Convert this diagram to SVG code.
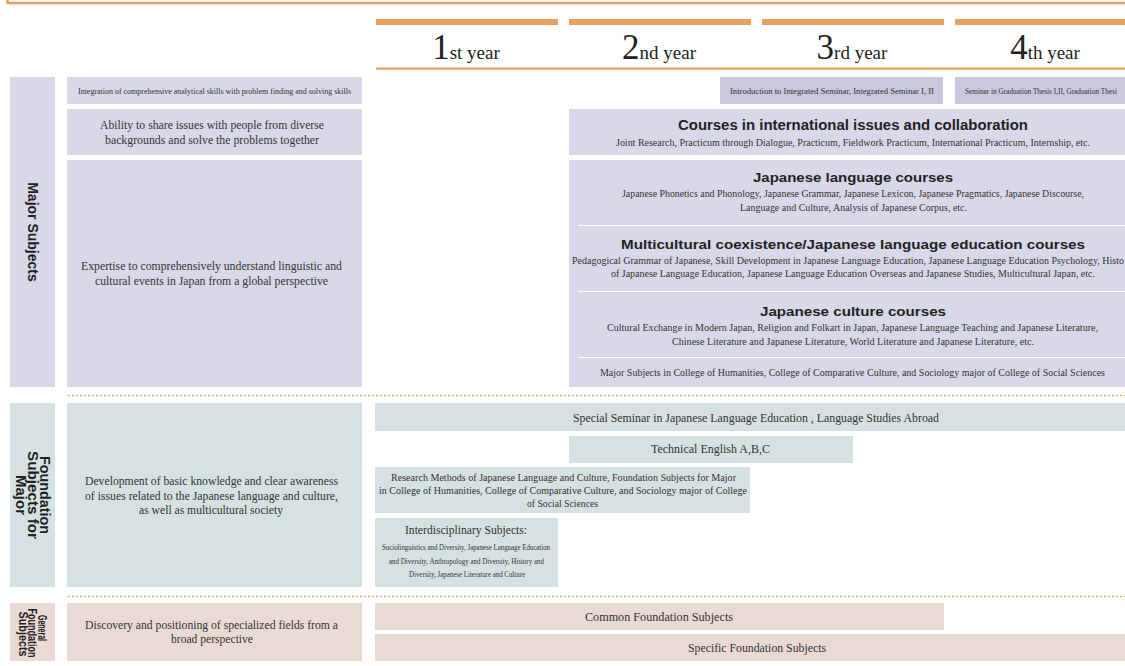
<svg xmlns="http://www.w3.org/2000/svg" width="1125" height="666" viewBox="0 0 1125 666">
<style>
.lav{fill:#d9d8e8}
.lavd{fill:#c9c8de}
.teal{fill:#d5e2e1}
.pink{fill:#e9dbd3}
.org{fill:#e8a060}
.sf{font-family:"Liberation Serif","Times New Roman",serif;fill:#333;}
.ss{font-family:"Liberation Sans",Arial,sans-serif;font-weight:bold;fill:#222;}
.c{text-anchor:middle}
.div{stroke:#ffffff;stroke-width:1.2}
.dot{stroke:#e8a060;stroke-width:1.6;stroke-dasharray:1.6 2.4;fill:none}
.yr{font-family:"Liberation Serif","Times New Roman",serif;fill:#222;text-anchor:middle}
</style>
<rect x="0" y="0" width="1125" height="666" fill="#ffffff"/>
<rect x="7.5" y="-20" width="1140" height="23" fill="none" stroke="#e8a060" stroke-width="2.5"/>
<line x1="9" y1="5" x2="1125" y2="5" stroke="#f6dcc4" stroke-width="1"/>

<g id="header">
<rect class="org" x="376" y="19" width="182" height="6"/>
<rect class="org" x="569" y="19" width="182" height="6"/>
<rect class="org" x="762" y="19" width="182" height="6"/>
<rect class="org" x="955" y="19" width="175" height="6"/>
<rect class="org" x="376" y="67.5" width="749" height="2.2"/>
<text class="yr" x="466" y="59"><tspan font-size="35">1</tspan><tspan font-size="19">st year</tspan></text>
<text class="yr" x="659" y="59"><tspan font-size="35">2</tspan><tspan font-size="19">nd year</tspan></text>
<text class="yr" x="852" y="59"><tspan font-size="35">3</tspan><tspan font-size="19">rd year</tspan></text>
<text class="yr" x="1045" y="59"><tspan font-size="35">4</tspan><tspan font-size="19">th year</tspan></text>
</g>

<g id="label-major">
<rect class="lav" x="10" y="77" width="45" height="310"/>
<text class="ss c" font-size="14" transform="translate(28,232) rotate(90)">Major Subjects</text>
</g>
<g id="desc-integration">
<rect class="lav" x="67" y="77" width="295" height="27"/>
<text class="sf c" x="214.5" y="93.5" font-size="8.5" textLength="273" lengthAdjust="spacingAndGlyphs">Integration of comprehensive analytical skills with problem finding and solving skills</text>
</g>
<g id="desc-ability">
<rect class="lav" x="67" y="109" width="295" height="46"/>
<text class="sf c" x="212" y="129" font-size="12" textLength="224" lengthAdjust="spacingAndGlyphs">Ability to share issues with people from diverse</text>
<text class="sf c" x="212" y="144" font-size="12" textLength="214" lengthAdjust="spacingAndGlyphs">backgrounds and solve the problems together</text>
</g>
<g id="desc-expertise">
<rect class="lav" x="67" y="160" width="295" height="227"/>
<text class="sf c" x="211.5" y="270" font-size="12" textLength="261" lengthAdjust="spacingAndGlyphs">Expertise to comprehensively understand linguistic and</text>
<text class="sf c" x="211.5" y="285" font-size="12" textLength="233" lengthAdjust="spacingAndGlyphs">cultural events in Japan from a global perspective</text>
</g>
<g id="intro-seminar">
<rect class="lavd" x="720" y="77" width="223" height="27"/>
<text class="sf c" x="832" y="93.5" font-size="9" textLength="204" lengthAdjust="spacingAndGlyphs">Introduction to Integrated Seminar, Integrated Seminar I, II</text>
</g>
<g id="graduation-seminar">
<rect class="lavd" x="955" y="77" width="175" height="27"/>
<text class="sf" x="965" y="93.5" font-size="9" textLength="152" lengthAdjust="spacingAndGlyphs">Seminar in Graduation Thesis I,II, Graduation Thesi</text>
</g>
<g id="international-courses">
<rect class="lav" x="569" y="109" width="560" height="46"/>
<text class="ss c" x="853" y="130" font-size="14" textLength="350" lengthAdjust="spacingAndGlyphs">Courses in international issues and collaboration</text>
<text class="sf c" x="853" y="146" font-size="10" textLength="474" lengthAdjust="spacingAndGlyphs">Joint Research, Practicum through Dialogue, Practicum, Fieldwork Practicum, International Practicum, Internship, etc.</text>
</g>
<g id="major-courses">
<rect class="lav" x="569" y="160" width="560" height="227"/>
<line class="div" x1="578" y1="225.5" x2="1125" y2="225.5"/>
<line class="div" x1="578" y1="291.5" x2="1125" y2="291.5"/>
<line class="div" x1="578" y1="357.5" x2="1125" y2="357.5"/>
<text class="ss c" x="853" y="182" font-size="13.5" textLength="200" lengthAdjust="spacingAndGlyphs">Japanese language courses</text>
<text class="sf c" x="853" y="197" font-size="10" textLength="462" lengthAdjust="spacingAndGlyphs">Japanese Phonetics and Phonology, Japanese Grammar, Japanese Lexicon, Japanese Pragmatics, Japanese Discourse,</text>
<text class="sf c" x="853.5" y="211" font-size="10" textLength="227" lengthAdjust="spacingAndGlyphs">Language and Culture, Analysis of Japanese Corpus, etc.</text>
<text class="ss c" x="853" y="249" font-size="13.5" textLength="464" lengthAdjust="spacingAndGlyphs">Multicultural coexistence/Japanese language education courses</text>
<text class="sf" x="572" y="264" font-size="10" textLength="552" lengthAdjust="spacingAndGlyphs">Pedagogical Grammar of Japanese, Skill Development in Japanese Language Education, Japanese Language Education Psychology, Histo</text>
<text class="sf c" x="853" y="277" font-size="10" textLength="484" lengthAdjust="spacingAndGlyphs">of Japanese Language Education, Japanese Language Education Overseas and Japanese Studies, Multicultural Japan, etc.</text>
<text class="ss c" x="853" y="316" font-size="13.5" textLength="186" lengthAdjust="spacingAndGlyphs">Japanese culture courses</text>
<text class="sf c" x="852.5" y="331" font-size="10" textLength="491" lengthAdjust="spacingAndGlyphs">Cultural Exchange in Modern Japan, Religion and Folkart in Japan, Japanese Language Teaching and Japanese Literature,</text>
<text class="sf c" x="853" y="345" font-size="10" textLength="362" lengthAdjust="spacingAndGlyphs">Chinese Literature and Japanese Literature, World Literature and Japanese Literature, etc.</text>
<text class="sf c" x="852.5" y="376" font-size="10" textLength="505" lengthAdjust="spacingAndGlyphs">Major Subjects in College of Humanities, College of Comparative Culture, and Sociology major of College of Social Sciences</text>
</g>

<g id="separators">
<line class="dot" x1="68" y1="395.5" x2="1125" y2="395.5"/>
<line class="dot" x1="68" y1="596.5" x2="1125" y2="596.5"/>
</g>

<g id="label-foundation">
<rect class="teal" x="10" y="403" width="45" height="184"/>
<g transform="translate(33,495) rotate(90)">
<text class="ss c" font-size="14" x="0" y="-7" textLength="78" lengthAdjust="spacingAndGlyphs">Foundation</text>
<text class="ss c" font-size="14" x="0" y="5" textLength="88" lengthAdjust="spacingAndGlyphs">Subjects for</text>
<text class="ss c" font-size="14" x="0" y="17" textLength="40" lengthAdjust="spacingAndGlyphs">Major</text>
</g>
</g>
<g id="desc-development">
<rect class="teal" x="67" y="403" width="295" height="184"/>
<text class="sf c" x="211.5" y="485" font-size="12" textLength="253" lengthAdjust="spacingAndGlyphs">Development of basic knowledge and clear awareness</text>
<text class="sf c" x="211.5" y="500" font-size="12" textLength="253" lengthAdjust="spacingAndGlyphs">of issues related to the Japanese language and culture,</text>
<text class="sf c" x="211" y="514" font-size="12" textLength="144" lengthAdjust="spacingAndGlyphs">as well as multicultural society</text>
</g>
<g id="special-seminar">
<rect class="teal" x="375" y="403" width="755" height="28"/>
<text class="sf c" x="756" y="422" font-size="12" textLength="366" lengthAdjust="spacingAndGlyphs">Special Seminar in Japanese Language Education , Language Studies Abroad</text>
</g>
<g id="technical-english">
<rect class="teal" x="569" y="436" width="284" height="27"/>
<text class="sf c" x="710.5" y="453" font-size="12" textLength="119" lengthAdjust="spacingAndGlyphs">Technical English A,B,C</text>
</g>
<g id="research-methods">
<rect class="teal" x="375" y="467" width="375" height="46"/>
<text class="sf c" x="563.5" y="481" font-size="10.5" textLength="345" lengthAdjust="spacingAndGlyphs">Research Methods of Japanese Language and Culture, Foundation Subjects for Major</text>
<text class="sf c" x="563" y="494" font-size="10.5" textLength="368" lengthAdjust="spacingAndGlyphs">in College of Humanities, College of Comparative Culture, and Sociology major of College</text>
<text class="sf c" x="562.5" y="507" font-size="10.5" textLength="71" lengthAdjust="spacingAndGlyphs">of Social Sciences</text>
</g>
<g id="interdisciplinary">
<rect class="teal" x="375" y="518" width="183" height="69"/>
<text class="sf c" x="466" y="534" font-size="12" textLength="122" lengthAdjust="spacingAndGlyphs">Interdisciplinary Subjects:</text>
<text class="sf c" x="466" y="550" font-size="9" textLength="168" lengthAdjust="spacingAndGlyphs">Sociolinguistics and Diversity, Japanese Language Education</text>
<text class="sf c" x="466.5" y="563.5" font-size="9" textLength="155" lengthAdjust="spacingAndGlyphs">and Diversity, Anthropology and Diversity, History and</text>
<text class="sf c" x="467" y="577" font-size="9" textLength="116" lengthAdjust="spacingAndGlyphs">Diversity, Japanese Literature and Culture</text>
</g>

<g id="label-general">
<rect class="pink" x="10" y="603" width="45" height="58"/>
<g transform="translate(33,633) rotate(90)">
<text class="ss c" font-size="12" x="-5" y="-5" textLength="26" lengthAdjust="spacingAndGlyphs">General</text>
<text class="ss c" font-size="12" x="0" y="5" textLength="49" lengthAdjust="spacingAndGlyphs">Foundation</text>
<text class="ss c" font-size="12" x="1" y="14.5" textLength="45" lengthAdjust="spacingAndGlyphs">Subjects</text>
</g>
</g>
<g id="desc-discovery">
<rect class="pink" x="67" y="603" width="295" height="58"/>
<text class="sf c" x="211.5" y="629" font-size="12" textLength="253" lengthAdjust="spacingAndGlyphs">Discovery and positioning of specialized fields from a</text>
<text class="sf c" x="212" y="643" font-size="12" textLength="82" lengthAdjust="spacingAndGlyphs">broad perspective</text>
</g>
<g id="common-foundation">
<rect class="pink" x="375" y="603" width="569" height="27"/>
<text class="sf c" x="659" y="620.5" font-size="12" textLength="148" lengthAdjust="spacingAndGlyphs">Common Foundation Subjects</text>
</g>
<g id="specific-foundation">
<rect class="pink" x="375" y="634" width="755" height="27"/>
<text class="sf c" x="757" y="651.5" font-size="12" textLength="138" lengthAdjust="spacingAndGlyphs">Specific Foundation Subjects</text>
</g>
<g id="connectors"></g>
</svg>
